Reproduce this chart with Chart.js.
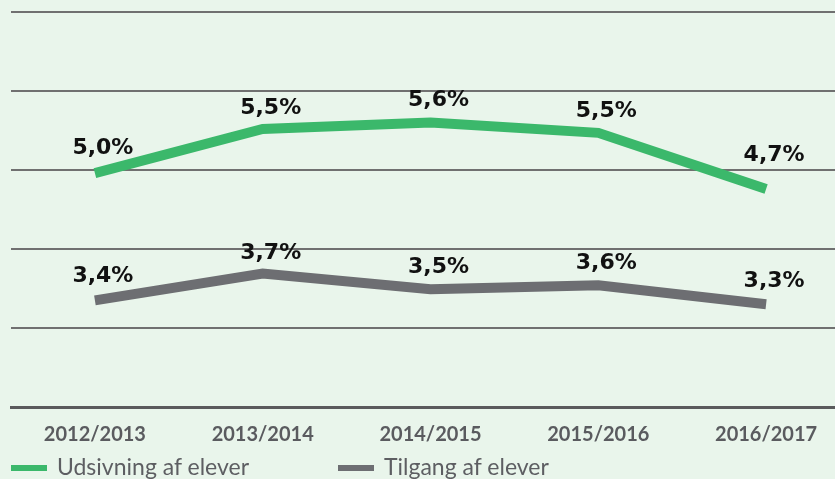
<!DOCTYPE html>
<html lang="da">
  <head>
    <meta charset="UTF-8" />
    <title>Udsivning og tilgang af elever</title>
    <script src="https://cdn.jsdelivr.net/npm/chart.js"></script>
    <style>
      html,
      body {
        margin: 0;
        padding: 0;
        overflow: hidden;
        background-color: #e9f5eb;
      }
      .wrap {
        position: relative;
        width: 850px;
        height: 479px;
      }
      .chart-box {
        position: absolute;
        left: 0;
        top: 0;
        width: 850px;
        height: 461px;
      }
      .legend {
        position: absolute;
        top: 452px;
        left: 0;
        font-family: Lato, sans-serif;
        font-size: 23px;
        color: #5d5e62;
      }
      .legend-item {
        position: absolute;
        white-space: nowrap;
        line-height: 28px;
      }
      .swatch {
        display: inline-block;
        width: 36px;
        height: 6px;
        vertical-align: middle;
        margin-right: 10px;
        position: relative;
        top: -1px;
      }
    </style>
  </head>
  <body>
    <div class="wrap">
      <div class="chart-box">
        <canvas id="chart"></canvas>
      </div>
      <div class="legend">
        <div class="legend-item" style="left: 11px">
          <span class="swatch" style="background: #3bb86b"></span>Udsivning af elever
        </div>
        <div class="legend-item" style="left: 338px">
          <span class="swatch" style="background: #6d6e72"></span>Tilgang af elever
        </div>
      </div>
    </div>

    <script>
      // values
      const years = ["2012/2013", "2013/2014", "2014/2015", "2015/2016", "2016/2017"];
      const udsivning = [4.96, 5.52, 5.6, 5.47, 4.76];
      const tilgang = [3.35, 3.69, 3.49, 3.54, 3.3];
      const udsivningText = ["5,0%", "5,5%", "5,6%", "5,5%", "4,7%"];
      const tilgangText = ["3,4%", "3,7%", "3,5%", "3,6%", "3,3%"];

      // how far each label sits above its point
      const labelLift = [
        [25, 21, 22, 22, 34],
        [24, 20, 22, 22, 23],
      ];

      const valueLabels = {
        id: "valueLabels",
        afterDatasetsDraw(chart) {
          const ctx = chart.ctx;
          const texts = [udsivningText, tilgangText];
          ctx.save();
          ctx.font = "bold 22px 'DejaVu Sans'";
          ctx.fillStyle = "#111111";
          ctx.textAlign = "center";
          ctx.textBaseline = "middle";
          chart.data.datasets.forEach((ds, d) => {
            chart.getDatasetMeta(d).data.forEach((pt, i) => {
              ctx.fillText(texts[d][i], pt.x + 8, pt.y - labelLift[d][i]);
            });
          });
          ctx.restore();
        },
      };

      new Chart(document.getElementById("chart"), {
        type: "line",
        data: {
          labels: years,
          datasets: [
            {
              label: "Udsivning af elever",
              data: udsivning,
              borderColor: "#3bb86b",
              borderWidth: 10,
              pointRadius: 0,
              tension: 0,
            },
            {
              label: "Tilgang af elever",
              data: tilgang,
              borderColor: "#6d6e72",
              borderWidth: 10,
              pointRadius: 0,
              tension: 0,
            },
          ],
        },
        options: {
          responsive: true,
          maintainAspectRatio: false,
          animation: false,
          layout: {
            padding: { top: 12, left: 11, right: 0, bottom: 4 },
          },
          plugins: {
            legend: { display: false },
            tooltip: { enabled: false },
          },
          scales: {
            x: {
              offset: true,
              grid: {
                drawOnChartArea: false,
                color: "#6a6a6a",
                tickLength: 6,
                tickWidth: 2,
                tickBorderDash: [2, 4],
                tickBorderDashOffset: 2,
              },
              border: { color: "#5a5a5c", width: 3 },
              ticks: {
                color: "#5a5b5f",
                padding: 10,
                font: { family: "Lato", size: 20, weight: "bold" },
              },
            },
            y: {
              min: 2,
              max: 7,
              ticks: { display: false, stepSize: 1 },
              grid: { color: "#707070", lineWidth: 2, drawTicks: false },
              border: { display: false },
            },
          },
        },
        plugins: [valueLabels],
      });
    </script>
  </body>
</html>
